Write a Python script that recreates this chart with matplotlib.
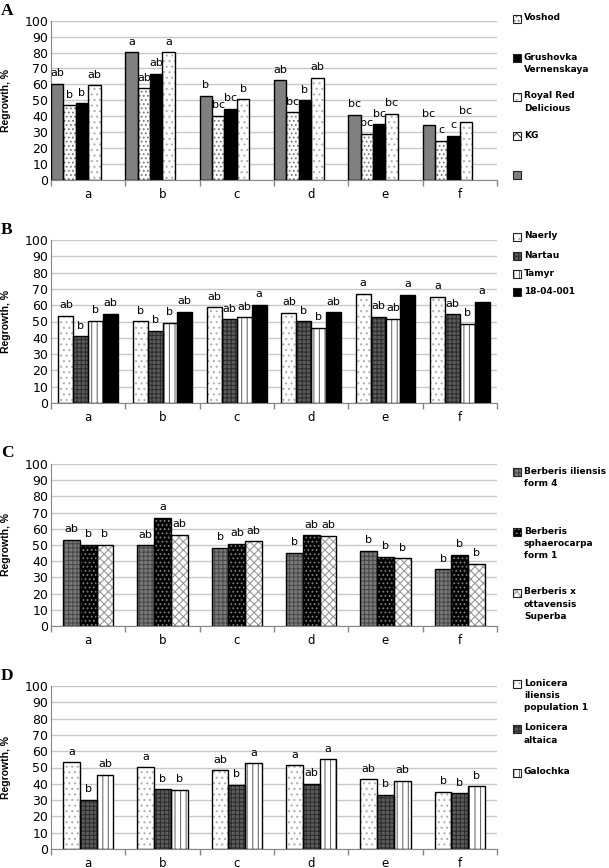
import matplotlib
matplotlib.use("Agg")
import matplotlib.pyplot as plt
from matplotlib.patches import Rectangle
import numpy as np

plt.rcParams['hatch.linewidth'] = 0.8

W, H = 609, 868
categories = ['a', 'b', 'c', 'd', 'e', 'f']

# ---------------- Panel A ----------------
A_series = ['Voshod', 'Grushovka\nVernenskaya', 'Royal Red\nDelicious', 'KG', '']
A_gray = [60.5, 80.3, 52.7, 62.5, 40.8, 34.5]
A_dense = [46.9, 57.7, 40.4, 42.5, 29.1, 24.5]
A_black = [48.3, 66.7, 44.6, 50.0, 34.9, 27.8]
A_light = [59.4, 80.1, 50.8, 64.0, 41.4, 36.6]
A_lab_gray = ['ab', 'a', 'b', 'ab', 'bc', 'bc']
A_lab_dense = ['b', 'ab', 'bc', 'bc', 'bc', 'c']
A_lab_black = ['b', 'ab', 'bc', 'b', 'bc', 'c']
A_lab_light = ['ab', 'a', 'b', 'ab', 'bc', 'bc']

# ---------------- Panel B ----------------
B_series = ['Naerly', 'Nartau', 'Tamyr', '18-04-001']
B_naerly = [53.5, 50.2, 58.6, 55.3, 67.0, 65.3]
B_nartau = [40.8, 44.3, 51.4, 50.2, 53.0, 54.5]
B_tamyr = [50.6, 49.2, 52.7, 46.0, 51.8, 48.6]
B_black = [54.9, 56.1, 60.2, 55.7, 66.5, 62.2]
B_lab_naerly = ['ab', 'b', 'ab', 'ab', 'a', 'a']
B_lab_nartau = ['b', 'b', 'ab', 'b', 'ab', 'ab']
B_lab_tamyr = ['b', 'b', 'ab', 'b', 'ab', 'b']
B_lab_black = ['ab', 'ab', 'a', 'ab', 'a', 'a']

# ---------------- Panel C ----------------
C_series = ['Berberis iliensis\nform 4', 'Berberis\nsphaerocarpa\nform 1', 'Berberis x\nottavensis\nSuperba']
C_iliensis = [53.2, 49.9, 48.2, 45.2, 46.4, 35.1]
C_sphaero = [50.3, 66.8, 50.9, 56.1, 42.9, 43.9]
C_ottav = [50.3, 56.3, 52.4, 55.7, 41.9, 38.4]
C_lab_iliensis = ['ab', 'ab', 'b', 'b', 'b', 'b']
C_lab_sphaero = ['b', 'a', 'ab', 'ab', 'b', 'b']
C_lab_ottav = ['b', 'ab', 'ab', 'ab', 'b', 'b']

# ---------------- Panel D ----------------
D_series = ['Lonicera\niliensis\npopulation 1', 'Lonicera\naltaica', 'Galochka']
D_iliensis = [53.1, 50.2, 48.2, 51.4, 42.9, 35.1]
D_altaica = [30.2, 36.7, 39.4, 40.0, 33.3, 34.1]
D_galochka = [45.7, 36.3, 52.7, 55.1, 41.8, 38.4]
D_lab_iliensis = ['a', 'a', 'ab', 'a', 'ab', 'b']
D_lab_altaica = ['b', 'b', 'b', 'ab', 'b', 'b']
D_lab_galochka = ['ab', 'b', 'a', 'a', 'ab', 'b']

# styles: (face, hatch, hatch colour)
ST = {
    'gray': ('#808080', None, '#808080'),
    'dense': ('white', '....', '#777777'),
    'light': ('white', '...', '#b0b0b0'),
    'black': ('black', None, 'black'),
    'darkchk': ('#5c5c5c', '++++', '#2e2e2e'),
    'midchk': ('#7a7a7a', '++++', '#4a4a4a'),
    'vert': ('white', '|||', '#707070'),
    'blackdot': ('black', '....', '#808080'),
    'lightchk': ('white', 'xxxx', '#999999'),
    'checker': ('white', 'xx', '#444444'),
}


def bars(ax, x, h, w, style, labels):
    face, hatch, hc = ST[style]
    ax.bar(x, h, w, color=face, edgecolor=hc, hatch=hatch, linewidth=0, zorder=2)
    ax.bar(x, h, w, fill=False, edgecolor='black', linewidth=1.0, zorder=3)
    for xi, hi, lb in zip(x, h, labels):
        ax.annotate(lb, (xi, hi), xytext=(0, 4), textcoords='offset points',
                    ha='center', va='bottom', fontsize=8, family='DejaVu Sans',
                    color='black', zorder=4)


def setup(ax):
    ax.set_xlim(-0.5, 5.5)
    ax.set_ylim(0, 100)
    ax.set_yticks(np.arange(0, 101, 10))
    ax.set_xticks(np.arange(6))
    ax.set_xticklabels(categories)
    ax.set_xticks(np.arange(-0.5, 5.6, 1.0), minor=True)
    ax.tick_params(axis='x', which='major', length=0, pad=5.5, labelsize=8.5)
    ax.tick_params(axis='x', which='minor', length=4, color='#868686', width=1)
    ax.tick_params(axis='y', length=0, pad=2, labelsize=9)
    ax.grid(axis='y', color='#c8c8c8', linewidth=1, zorder=0)
    ax.set_axisbelow(True)
    for s in ['top', 'right']:
        ax.spines[s].set_visible(False)
    ax.spines['left'].set_color('#868686')
    ax.spines['bottom'].set_color('#868686')
    ax.set_ylabel('Regrowth, %', family='Liberation Sans', fontweight='bold', fontsize=7.5)
    ax.yaxis.set_label_coords(-0.09, 0.5)


def px(x, y):
    return x / W, 1 - y / H


def legend(entries):
    # entries: (label, style, first-line centre y in px)
    for lab, style, yc in entries:
        face, hatch, hc = ST[style]
        x0, y0 = px(513, yc + 4)
        r = Rectangle((x0, y0), 8 / W, 8 / H, transform=fig.transFigure,
                      facecolor=face, edgecolor=hc, hatch=hatch, linewidth=0)
        fig.add_artist(r)
        r2 = Rectangle((x0, y0), 8 / W, 8 / H, transform=fig.transFigure,
                       fill=False, edgecolor='#222222', linewidth=0.8)
        fig.add_artist(r2)
        if lab:
            tx, ty = px(524, yc - 5.5)
            fig.text(tx, ty, lab, ha='left', va='top', fontsize=6.5, fontweight='bold',
                     family='DejaVu Sans', linespacing=1.45)


fig = plt.figure(figsize=(W / 100, H / 100), dpi=100)
rects = [[51 / W, 1 - 180 / H, 446 / W, 159.3 / H],
         [51 / W, 1 - 403 / H, 446 / W, 163 / H],
         [51 / W, 1 - 626 / H, 446 / W, 162 / H],
         [51 / W, 1 - 849 / H, 446 / W, 163 / H]]
axA, axB, axC, axD = [fig.add_axes(r) for r in rects]
xc = np.arange(6)

# Panel A
wA = 1 / 6
for i, (vals, st, lbs) in enumerate([(A_gray, 'gray', A_lab_gray), (A_dense, 'dense', A_lab_dense),
                                      (A_black, 'black', A_lab_black), (A_light, 'light', A_lab_light)]):
    bars(axA, xc - 0.5 + (i + 0.5) * wA, vals, wA, st, lbs)
setup(axA)

# Panel B
wB = 0.2
for i, (vals, st, lbs) in enumerate([(B_naerly, 'light', B_lab_naerly), (B_nartau, 'darkchk', B_lab_nartau),
                                      (B_tamyr, 'vert', B_lab_tamyr), (B_black, 'black', B_lab_black)]):
    bars(axB, xc + (i - 1.5) * wB, vals, wB, st, lbs)
setup(axB)

# Panel C
wC = 0.225
for i, (vals, st, lbs) in enumerate([(C_iliensis, 'midchk', C_lab_iliensis), (C_sphaero, 'blackdot', C_lab_sphaero),
                                      (C_ottav, 'lightchk', C_lab_ottav)]):
    bars(axC, xc + (i - 1) * wC, vals, wC, st, lbs)
setup(axC)

# Panel D
for i, (vals, st, lbs) in enumerate([(D_iliensis, 'light', D_lab_iliensis), (D_altaica, 'darkchk', D_lab_altaica),
                                      (D_galochka, 'vert', D_lab_galochka)]):
    bars(axD, xc + (i - 1) * wC, vals, wC, st, lbs)
setup(axD)

# Legends
legend([(A_series[0], 'dense', 19), (A_series[1], 'black', 58), (A_series[2], 'light', 97),
        (A_series[3], 'checker', 136), (A_series[4], 'gray', 175)])
legend([(B_series[0], 'light', 237), (B_series[1], 'darkchk', 256), (B_series[2], 'vert', 274),
        (B_series[3], 'black', 292)])
legend([(C_series[0], 'midchk', 472), (C_series[1], 'blackdot', 532), (C_series[2], 'lightchk', 593)])
legend([(D_series[0], 'light', 684), (D_series[1], 'darkchk', 729), (D_series[2], 'vert', 773)])

# Panel letters
for letter, ytop in [('A', 3), ('B', 222), ('C', 445), ('D', 668)]:
    tx, ty = px(1, ytop)
    fig.text(tx, ty, letter, ha='left', va='top', fontsize=12.5, fontweight='bold',
             family='Liberation Serif')

fig.savefig('out.png', dpi=100)
